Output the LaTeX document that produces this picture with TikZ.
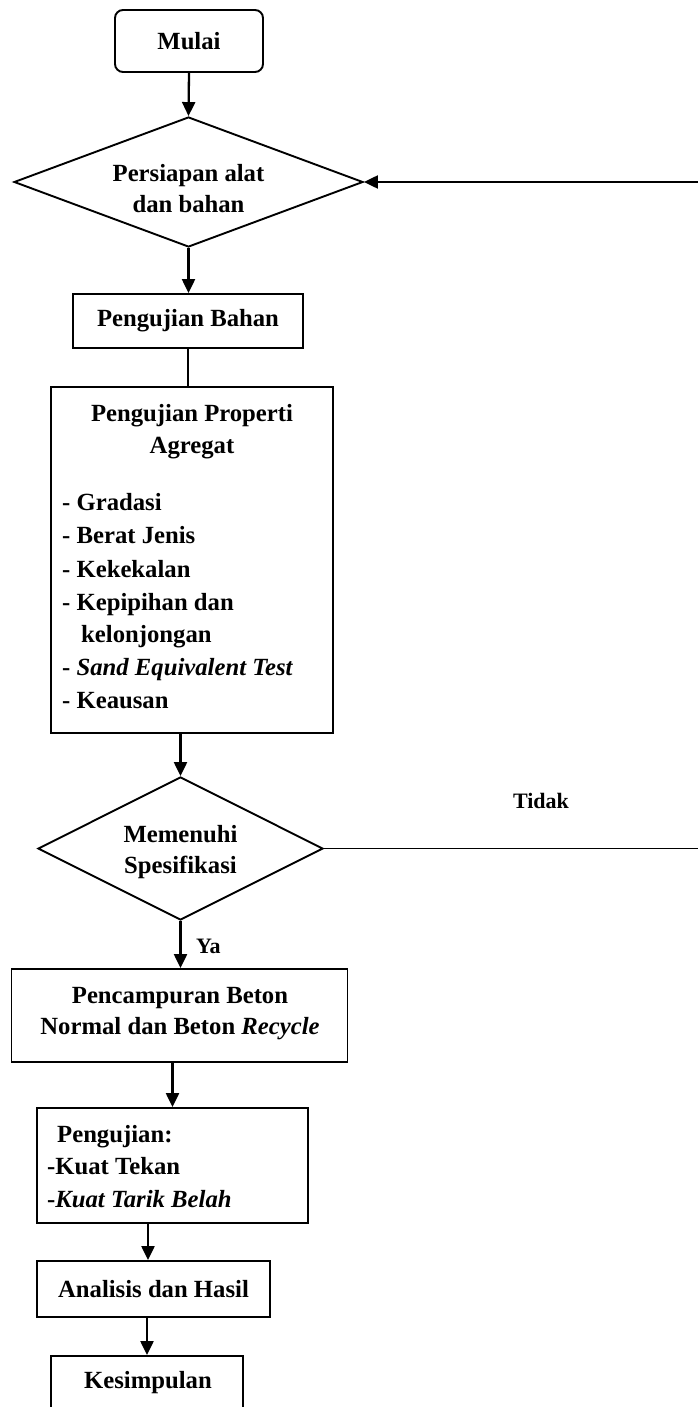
\documentclass[tikz,border=0pt]{standalone}
\usepackage{fontspec}
\setmainfont{Liberation Serif}
\usetikzlibrary{arrows.meta,shapes.geometric}
\begin{document}
\begin{tikzpicture}[x=1pt,y=-1pt,
  every node/.style={font=\fontsize{24.7}{32}\selectfont\bfseries},
  box/.style={draw,line width=1.9pt,inner sep=0pt},
  dia/.style={draw,diamond,line width=1.9pt,inner sep=0pt,shape aspect=2.7},
  arr/.style={line width=2.3pt,-{Triangle[length=14pt,width=13pt]}},
  ln/.style={line width=1.9pt},
  txt/.style={inner sep=0pt,anchor=base},
  txtl/.style={inner sep=0pt,anchor=base west},
  small/.style={font=\fontsize{22}{28}\selectfont\bfseries}]
\useasboundingbox (0,0) rectangle (698,1407);
\clip (0,0) rectangle (698,1407);
\fill[white] (0,0) rectangle (698,1407);

% Mulai
\node[box,rounded corners=8pt,minimum width=148pt,minimum height=62pt] (start) at (189,41) {Mulai};

% Diamond 1
\node[dia,minimum width=349pt,minimum height=130pt] (d1) at (188.5,182) {};
\node[txt] (d1a) at (188.5,182) {Persiapan alat};
\node[txt] (d1b) at (188.5,212) {dan bahan};

% Pengujian Bahan
\node[box,minimum width=230pt,minimum height=54pt] (pb) at (188,321) {Pengujian Bahan};

% Pengujian Properti Agregat
\node[box,minimum width=282pt,minimum height=346pt] (pp) at (192,560) {};
\node[txt] (ppa) at (192,421) {Pengujian Properti};
\node[txt] (ppb) at (192,453) {Agregat};
\node[txtl] (l1) at (62,510) {- Gradasi};
\node[txtl] (l2) at (62,543) {- Berat Jenis};
\node[txtl] (l3) at (62,577) {- Kekekalan};
\node[txtl] (l4) at (62,610) {- Kepipihan dan};
\node[txtl] (l5) at (81,642) {kelonjongan};
\node[txtl] (l6) at (62,675) {- \textit{Sand Equivalent Test}};
\node[txtl] (l7) at (62,708) {- Keausan};

% Diamond 2
\node[dia,minimum width=285pt,minimum height=143pt] (d2) at (180.5,848.5) {};
\node[txt] (d2a) at (180.5,842) {Memenuhi};
\node[txt] (d2b) at (180.5,873) {Spesifikasi};
\node[txt,small] (tidak) at (541,808) {Tidak};
\node[txtl,small] (ya) at (196,953) {Ya};

% Pencampuran
\node[box,minimum width=336pt,minimum height=93pt] (pc) at (179.5,1015.5) {};
\node[txt] (pca) at (180,1003) {Pencampuran Beton};
\node[txt] (pcb) at (180,1034) {Normal dan Beton \textit{Recycle}};

% Pengujian
\node[box,minimum width=271pt,minimum height=115pt] (pg) at (172.5,1165.5) {};
\node[txtl] (pga) at (57,1142) {Pengujian:};
\node[txtl] (pgb) at (47,1174) {-Kuat Tekan};
\node[txtl] (pgc) at (47,1207) {-\textit{Kuat Tarik Belah}};

% Analisis
\node[box,minimum width=233pt,minimum height=56pt] (an) at (153.5,1289) {Analisis dan Hasil};

% Kesimpulan
\node[box,minimum width=192pt,minimum height=70pt] (ks) at (147,1391) {};
\node[txt] (ksa) at (148,1388) {Kesimpulan};

% connectors
\coordinate (e1) at (698,182);
\coordinate (e2) at (698,848.5);
\draw[arr] (start.south) -- (d1.north);
\draw[arr] (e1) -- (d1.east);
\draw[arr] (d1.south) -- (d1.south |- pb.north);
\draw[ln] (pb.south) -- (pb.south |- pp.north);
\draw[arr] (d2.north |- pp.south) -- (d2.north);
\draw[ln] (d2.east) -- (e2);
\draw[arr] (d2.south) -- (d2.south |- pc.north);
\draw[arr] (pg.north |- pc.south) -- (pg.north);
\draw[arr] ([xshift=-5.5pt]an.north |- pg.south) -- ([xshift=-5.5pt]an.north);
\draw[arr] (ks.north |- an.south) -- (ks.north);
\end{tikzpicture}
\end{document}
